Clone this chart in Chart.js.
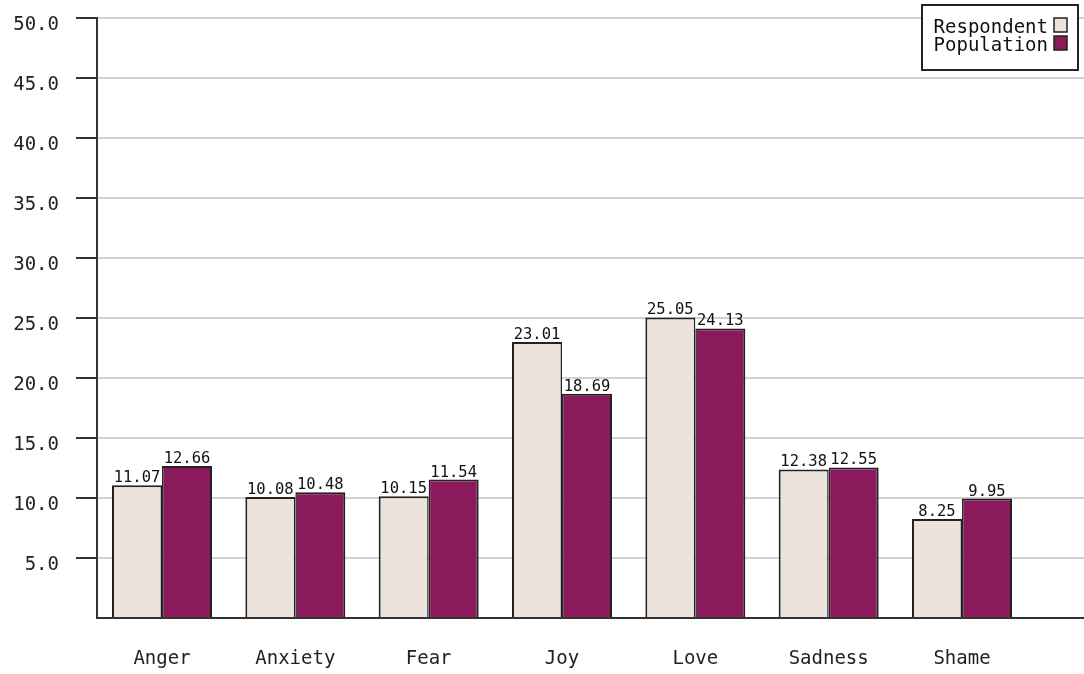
<!DOCTYPE html>
<html>
<head>
<meta charset="utf-8">
<script src="https://cdn.jsdelivr.net/npm/chart.js@4.4.0/dist/chart.umd.min.js"></script>
<style>
  html, body { margin: 0; padding: 0; background: #fff; }
  #wrap { width: 1084px; height: 674px; }
</style>
</head>
<body>
<div id="wrap"><canvas id="emotionChart" width="1084" height="674"></canvas></div>
<script>
const categories = ['Anger', 'Anxiety', 'Fear', 'Joy', 'Love', 'Sadness', 'Shame'];
const respondentValues = [11.07, 10.08, 10.15, 23.01, 25.05, 12.38, 8.25];
const populationValues = [12.66, 10.48, 11.54, 18.69, 24.13, 12.55, 9.95];
const seriesNames = ['Respondent', 'Population'];
const seriesColors = ['#ede3dd', '#8b1a5c'];

const MONO = '"DejaVu Sans Mono", "Liberation Mono", monospace';

const valueLabels = {
    id: 'valueLabels',
    afterDatasetsDraw(chart) {
        const ctx = chart.ctx;
        ctx.save();
        ctx.font = '15.5px ' + MONO;
        ctx.fillStyle = '#111';
        ctx.textAlign = 'center';
        ctx.textBaseline = 'alphabetic';
        chart.data.datasets.forEach((ds, i) => {
            chart.getDatasetMeta(i).data.forEach((bar, j) => {
                ctx.fillText(ds.data[j].y.toFixed(2), bar.x, bar.y - 3);
            });
        });
        ctx.restore();
    }
};

const boxLegend = {
    id: 'boxLegend',
    afterDraw(chart) {
        const ctx = chart.ctx;
        const right = chart.chartArea.right - 6;
        const left = right - 156;
        const top = 5;
        ctx.save();
        ctx.fillStyle = '#fff';
        ctx.fillRect(left, top, right - left, 65);
        ctx.strokeStyle = '#222';
        ctx.lineWidth = 2;
        ctx.strokeRect(left, top, right - left, 65);
        ctx.font = '19px ' + MONO;
        ctx.textAlign = 'right';
        ctx.textBaseline = 'alphabetic';
        seriesNames.forEach((name, i) => {
            const rowY = top + 13 + i * 18;
            ctx.fillStyle = '#111';
            ctx.fillText(name, right - 30, rowY + 15);
            ctx.fillStyle = seriesColors[i];
            ctx.fillRect(right - 24, rowY, 13, 14);
            ctx.lineWidth = 1.5;
            ctx.strokeRect(right - 24, rowY, 13, 14);
        });
        ctx.restore();
    }
};

const toPoints = vals => vals.map((v, i) => ({ x: i, y: v }));

new Chart(document.getElementById('emotionChart'), {
    type: 'bar',
    data: {
        datasets: [
            {
                label: seriesNames[0],
                data: toPoints(respondentValues),
                backgroundColor: seriesColors[0],
                borderColor: '#222',
                borderWidth: { left: 2, top: 2, right: 1.5, bottom: 0 },
                borderSkipped: 'start'
            },
            {
                label: seriesNames[1],
                data: toPoints(populationValues),
                backgroundColor: seriesColors[1],
                borderColor: '#222',
                borderWidth: { left: 1.5, top: 2, right: 2, bottom: 0 },
                borderSkipped: 'start'
            }
        ]
    },
    options: {
        responsive: false,
        animation: false,
        categoryPercentage: 0.75,
        barPercentage: 1.0,
        layout: { padding: { top: 18, right: 0, left: 0, bottom: 0 } },
        plugins: {
            legend: { display: false },
            tooltip: { enabled: false }
        },
        scales: {
            x: {
                type: 'linear',
                offset: false,
                min: -0.4875,
                max: 6.915,
                afterBuildTicks: scale => {
                    scale.ticks = categories.map((c, i) => ({ value: i }));
                },
                afterFit: scale => { scale.height = 56; },
                grid: { display: false, drawTicks: false, offset: false },
                border: { display: true, color: '#333', width: 2 },
                ticks: {
                    padding: 30,
                    color: '#222',
                    font: { family: MONO, size: 19 },
                    callback: v => categories[v] ?? ''
                }
            },
            y: {
                min: 0,
                max: 50,
                afterFit: scale => {
                    scale.width = 97;
                    scale.paddingTop = 0;
                    scale.paddingBottom = 0;
                },
                grid: {
                    color: '#d2d2d2',
                    lineWidth: 2,
                    tickLength: 21,
                    tickColor: c => (c.tick && c.tick.value === 0) ? 'rgba(0,0,0,0)' : '#333',
                    tickWidth: 2
                },
                border: { display: true, color: '#333', width: 2 },
                ticks: {
                    stepSize: 5,
                    padding: 17,
                    labelOffset: 7,
                    color: '#222',
                    font: { family: MONO, size: 19 },
                    callback: v => v === 0 ? '' : v.toFixed(1)
                }
            }
        }
    },
    plugins: [valueLabels, boxLegend]
});
</script>
</body>
</html>
